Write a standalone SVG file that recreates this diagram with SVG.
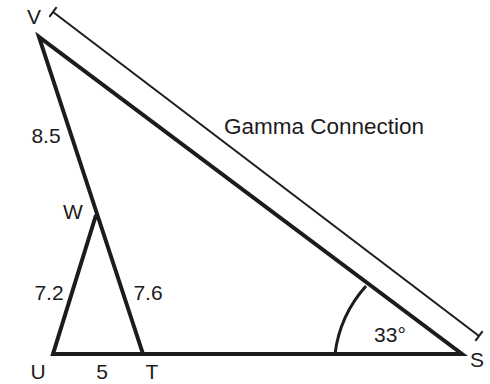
<svg xmlns="http://www.w3.org/2000/svg" width="490" height="384" viewBox="0 0 490 384">
<style>
.edge{fill:none;stroke:#1c1c1c;stroke-width:4;stroke-linejoin:miter;stroke-linecap:butt}
.dim{fill:none;stroke:#1c1c1c;stroke-width:2}
.arc{fill:none;stroke:#1c1c1c;stroke-width:3}
text{font-family:"Liberation Sans",Arial,sans-serif;font-size:21px;fill:#1c1c1c}
</style>
<rect width="490" height="384" fill="#ffffff"/>
<g id="connectors">
<path class="edge" d="M96,215 L53,354 L462,354 L39,37 L143,354"/>
<path class="dim" d="M53,12 L479,336"/>
<path class="dim" d="M49.4,16.8 L56.6,7.2"/>
<path class="dim" d="M475.4,340.8 L482.6,331.2"/>
<path class="arc" d="M335,354 A125,125 0 0 1 366,286"/>
</g>
<g id="node-V"><text x="34" y="24" text-anchor="middle">V</text></g>
<g id="node-W"><text x="73" y="219" text-anchor="middle">W</text></g>
<g id="node-U"><text x="38" y="378.5" text-anchor="middle">U</text></g>
<g id="node-T"><text x="152" y="378.5" text-anchor="middle">T</text></g>
<g id="node-S"><text x="477" y="367" text-anchor="middle">S</text></g>
<g id="labels">
<text x="46" y="143" text-anchor="middle">8.5</text>
<text x="49" y="300" text-anchor="middle">7.2</text>
<text x="148" y="300" text-anchor="middle">7.6</text>
<text x="102" y="378.5" text-anchor="middle">5</text>
<text x="390" y="342" text-anchor="middle">33°</text>
<text x="324" y="134" text-anchor="middle" style="font-size:22.5px">Gamma Connection</text>
</g>
</svg>
